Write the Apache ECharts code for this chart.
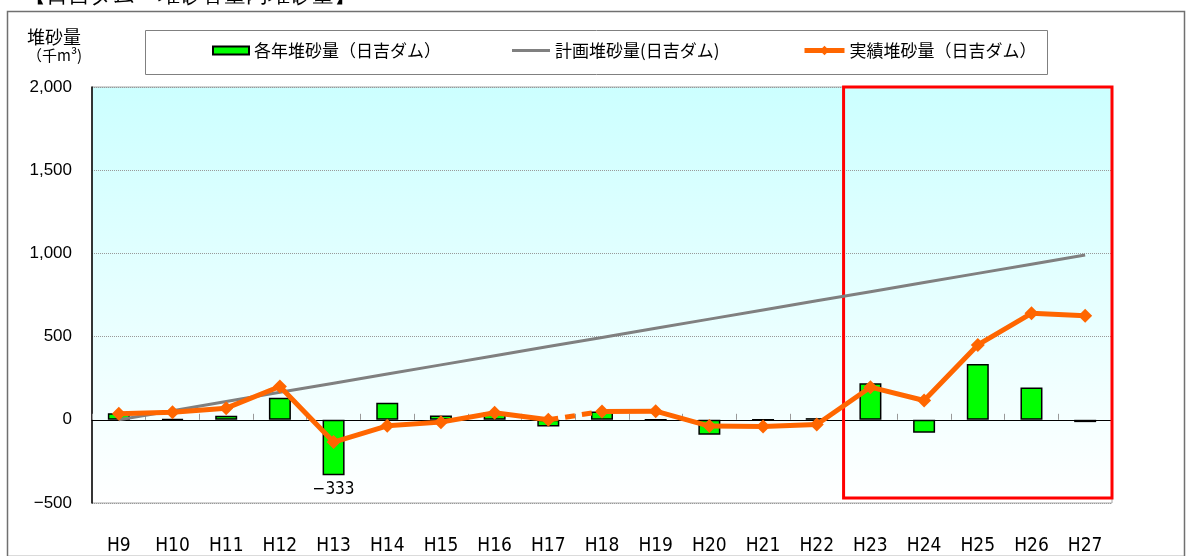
<!DOCTYPE html>
<html>
<head>
<meta charset="utf-8">
<script src="https://cdn.jsdelivr.net/npm/echarts@6/dist/echarts.min.js"></script>
<style>
  html, body { margin: 0; padding: 0; background: #fff; }
  #chart { width: 1187px; height: 556px; }
</style>
</head>
<body>
<div id="chart"></div>
<script>
// 年度
var years = ['H9', 'H10', 'H11', 'H12', 'H13', 'H14', 'H15', 'H16', 'H17', 'H18',
  'H19', 'H20', 'H21', 'H22', 'H23', 'H24', 'H25', 'H26', 'H27']
// 各年堆砂量（千m3）
var yearly = [40, 5, 24, 132, -333, 102, 26, 45, -40, 50, 0, -90, 0, 10, 220, -78, 336, 194, -14]
// 計画堆砂量
var planned = [0, 55, 110, 165, 220, 275, 330, 385, 440, 495, 550, 605, 660, 715, 770, 825, 880, 935, 990]
// 実績堆砂量
var actual = [36, 46, 70, 200, -134, -36, -14, 42, 0, 50, 52, -38, -40, -28, 196, 116, 450, 640, 626]
var yTicks = [-500, 0, 500, 1000, 1500, 2000]

var NAME_BAR = '各年堆砂量（日吉ダム）'
var NAME_PLAN = '計画堆砂量(日吉ダム)'
var NAME_ACT = '実績堆砂量（日吉ダム）'
var FONT = '"Noto Sans CJK JP", sans-serif'
var NARROW = '"Liberation Sans Narrow", "DejaVu Sans Condensed", "Roboto Condensed", sans-serif'

// H17→H18 の区間だけ破線
var breakAt = years.indexOf('H18')
var actualA = actual.map(function (v, i) { return i < breakAt ? v : null })
var actualB = actual.map(function (v, i) { return i >= breakAt ? v : null })
var actualDash = actual.map(function (v, i) { return (i === breakAt - 1 || i === breakAt) ? v : null })

var barData = yearly.map(function (v, i) {
  if (v === Math.min.apply(null, yearly)) {
    return {
      value: v,
      label: {
        show: true,
        position: 'bottom',
        distance: 6,
        color: '#000',
        fontSize: 17,
        fontFamily: NARROW,
        formatter: function (p) { return String(p.value).replace('-', '\u2212') }
      }
    }
  }
  return v
})

var chart = echarts.init(document.getElementById('chart'), null, { renderer: 'canvas' })

var lineStyleAct = { color: '#ff6600', width: 5 }
var legendCommon = {
  top: 42,
  textStyle: { fontSize: 17, color: '#000', fontFamily: FONT },
  itemGap: 0,
  selectedMode: false,
  padding: 0
}

var option = {
  animation: false,
  backgroundColor: '#fff',
  legend: [
    Object.assign({}, legendCommon, { left: 212, data: [{ name: NAME_BAR, icon: 'rect' }], itemWidth: 36, itemHeight: 8 }),
    Object.assign({}, legendCommon, { left: 512, data: [{ name: NAME_PLAN, icon: 'rect' }], itemWidth: 38, itemHeight: 3 }),
    Object.assign({}, legendCommon, {
      left: 802,
      data: [{ name: NAME_ACT, lineStyle: { width: 5, color: '#ff6600' } }],
      itemWidth: 40,
      itemHeight: 12
    })
  ],
  graphic: [
    {
      type: 'rect', left: 5, top: 9, z: -10,
      shape: { width: 1177, height: 545 },
      style: { fill: null, stroke: '#707070', lineWidth: 1.5 }
    },
    {
      type: 'rect', left: 143, top: 28,
      shape: { width: 902, height: 44 },
      style: { fill: null, stroke: '#808080', lineWidth: 1 }
    },
    {
      type: 'text', left: 24, top: -15,
      style: { text: '【日吉ダム　堆砂容量内堆砂量】', fontSize: 22, fill: '#000', font: '22px ' + FONT }
    },
    {
      type: 'text', left: 27, top: 28,
      style: {
        text: '{a|堆砂量}\n{b|（千m³)}',
        rich: {
          a: { fontSize: 18, fontFamily: FONT, fill: '#000', lineHeight: 19 },
          b: { fontSize: 15, fontFamily: FONT, fill: '#000', lineHeight: 18 }
        }
      }
    }
  ],
  grid: {
    left: 92, right: 75, top: 87, bottom: 53,
    show: true,
    borderColor: '#a8a8a8',
    borderWidth: 1,
    backgroundColor: new echarts.graphic.LinearGradient(0, 0, 0, 1, [
      { offset: 0, color: '#ccffff' },
      { offset: 1, color: '#ffffff' }
    ])
  },
  xAxis: [
    {
      type: 'category',
      data: years,
      position: 'bottom',
      axisLine: { show: false, onZero: false },
      axisTick: { show: false },
      axisLabel: {
        margin: 34,
        fontSize: 19,
        color: '#000',
        fontFamily: NARROW
      }
    },
    {
      type: 'category',
      data: years,
      position: 'bottom',
      axisLine: { show: true, onZero: true, lineStyle: { color: '#000', width: 1 } },
      axisTick: { show: true, inside: true, length: 6, lineStyle: { color: '#999' } },
      axisLabel: { show: false }
    }
  ],
  yAxis: {
    type: 'value',
    min: yTicks[0],
    max: yTicks[yTicks.length - 1],
    interval: 500,
    axisLine: { show: true, lineStyle: { color: '#000', width: 1.5 } },
    axisTick: { show: false },
    axisLabel: {
      margin: 20,
      fontSize: 17,
      color: '#000',
      fontFamily: '"Liberation Sans", Arial, sans-serif',
      formatter: function (v) {
        return v.toLocaleString('en-US').replace('-', '\u2212')
      }
    },
    splitLine: { show: true, lineStyle: { color: '#999', type: [1, 1], width: 1 } }
  },
  series: [
    {
      name: NAME_BAR,
      type: 'bar',
      data: barData,
      barWidth: 22,
      z: 2,
      itemStyle: { color: '#00ff00', borderColor: '#000', borderWidth: 1.5 },
      markArea: {
        silent: true,
        itemStyle: { color: 'rgba(0,0,0,0)', borderColor: '#ff0000', borderWidth: 3 },
        data: [[{ xAxis: 'H23', yAxis: 2000 }, { xAxis: 'H27', yAxis: -470 }]]
      }
    },
    {
      name: NAME_PLAN,
      type: 'line',
      data: planned,
      symbol: 'none',
      z: 3,
      lineStyle: { color: '#808080', width: 3 },
      itemStyle: { color: '#808080' }
    },
    {
      name: NAME_ACT,
      type: 'line',
      data: actualA,
      symbol: 'diamond',
      symbolSize: 14,
      z: 5,
      lineStyle: lineStyleAct,
      itemStyle: { color: '#ff6600' }
    },
    {
      name: NAME_ACT,
      type: 'line',
      data: actualB,
      symbol: 'diamond',
      symbolSize: 14,
      z: 5,
      lineStyle: lineStyleAct,
      itemStyle: { color: '#ff6600' }
    },
    {
      name: NAME_ACT,
      type: 'line',
      data: actualDash,
      symbol: 'none',
      z: 4,
      lineStyle: { color: '#ff6600', width: 5, type: [10, 7] },
      itemStyle: { color: '#ff6600' }
    }
  ]
}

chart.setOption(option)
</script>
</body>
</html>
